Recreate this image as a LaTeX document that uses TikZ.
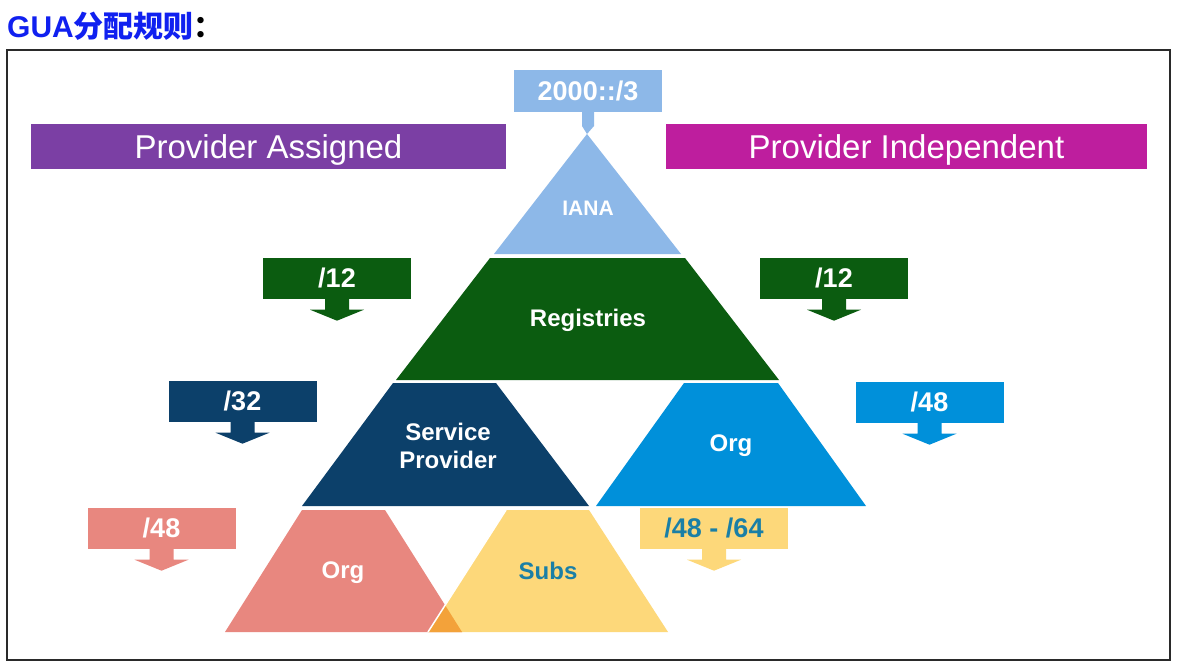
\documentclass[tikz,border=0pt]{standalone}
\usepackage{fontspec}
\setmainfont{Liberation Sans}
\newfontfamily\cjk{Noto Sans CJK SC}
\usetikzlibrary{calc}
\definecolor{lblue}{HTML}{8DB8E8}
\definecolor{purp}{HTML}{7B3FA4}
\definecolor{magen}{HTML}{BE1E9E}
\definecolor{dgreen}{HTML}{0B5C10}
\definecolor{navy}{HTML}{0C406A}
\definecolor{oblue}{HTML}{0090DA}
\definecolor{pink}{HTML}{E8877F}
\definecolor{yel}{HTML}{FDD87A}
\definecolor{orng}{HTML}{F3A23A}
\definecolor{teal}{HTML}{1A7FA6}
\definecolor{tblue}{HTML}{1020F0}
\definecolor{frame}{HTML}{2A2A2A}
\tikzset{
  lbl/.style={font=\fontsize{24}{26}\selectfont\bfseries, text=white, align=center, inner sep=0},
  cbox/.style={minimum width=148, minimum height=41, inner sep=0, font=\fontsize{27}{29}\selectfont\bfseries},
  head/.style={minimum height=45, inner sep=0, text=white, font=\fontsize{33}{35}\selectfont, text height=23.5, text depth=0}
}
\newcommand{\arrbox}[6]{%
  \node[cbox, fill=#4, text=#5] (#1) at (#2,#3) {#6};
  \fill[#4] ($(#1.south)+(-12,-1)$) -- ++(0,12) -- ++(-15,0) -- ($(#1.south)+(0,22)$)
    -- ($(#1.south)+(27,11)$) -- ++(-15,0) -- ($(#1.south)+(12,-1)$) -- cycle;
}
\begin{document}
\begin{tikzpicture}[x=1pt,y=-1pt]
\useasboundingbox[fill=white] (0,0) rectangle (1178,663);
% title
\node[anchor=west, inner sep=0, font=\bfseries\fontsize{30}{32}\selectfont] (title) at (7,26) {\textcolor{tblue}{GUA{\cjk\bfseries 分配规则}}{\cjk\bfseries ：}};
% frame
\draw[line width=2.5, frame] (7,50) rectangle (1170,660);
% top label
\node[fill=lblue, minimum width=148, minimum height=42, inner sep=0, text=white, font=\fontsize{27}{29}\selectfont\bfseries] (top) at (588,91) {2000::/3};
\fill[lblue] (582,111) -- (594,111) -- (594,126) -- (587,134) -- (582,126) -- cycle;
% headers
\node[head, fill=purp, minimum width=475] (pa) at (268.5,147) {Provider Assigned};
\node[head, fill=magen, minimum width=481] (pi) at (906.5,147) {Provider Independent};
% pyramid
\fill[lblue] (587,134) -- (681,254) -- (494,254) -- cycle;
\node[lbl, font=\fontsize{21}{23}\selectfont\bfseries] (iana) at (588,208) {IANA};
\fill[dgreen] (490,258) -- (685,258) -- (779,380) -- (396,380) -- cycle;
\node[lbl] (reg) at (588,320) {Registries};
\fill[navy] (393,383) -- (496,383) -- (589,506) -- (302,506) -- cycle;
\node[lbl] (sp) at (448,446) {Service\\[2pt]Provider};
\fill[oblue] (684,383) -- (778,383) -- (866,506) -- (596,506) -- cycle;
\node[lbl] (org1) at (731,446) {Org};
\fill[pink] (302,510) -- (385,510) -- (462,632) -- (225,632) -- cycle;
\node[lbl] (org2) at (343,573) {Org};
\fill[yel] (506,510) -- (589,510) -- (668,632) -- (428,632) -- cycle;
\fill[orng] (445,605) -- (462,632) -- (428,632) -- cycle;
\draw[white, line width=1.5] (506,510) -- (428,632);
\node[lbl, text=teal] (subs) at (548,571) {Subs};
% callouts
\arrbox{a1}{337}{278}{dgreen}{white}{/12}
\arrbox{a2}{834}{278}{dgreen}{white}{/12}
\arrbox{a3}{242.5}{401}{navy}{white}{/32}
\arrbox{a4}{929.5}{402}{oblue}{white}{/48}
\arrbox{a5}{161.5}{528}{pink}{white}{/48}
\arrbox{a6}{714}{528}{yel}{teal}{/48 - /64}
\end{tikzpicture}
\end{document}
